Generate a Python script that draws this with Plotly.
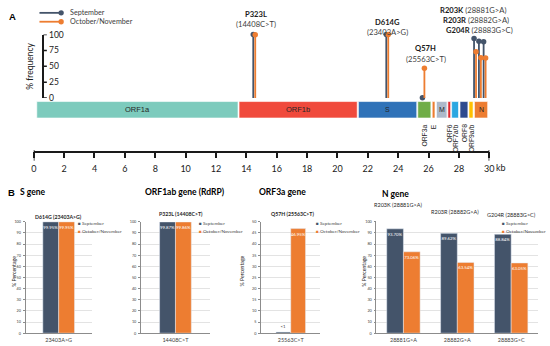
import plotly.graph_objects as go

W, H = 550, 346


def PX(x):
    return x / W


def PY(y):
    return 1 - y / H


NAVY = "#44546a"
ORANGE = "#ed7d31"
FONT = "Lato"

# ---------------- Panel A data ----------------
genes = ["ORF1a", "ORF1b", "S", "ORF3a", "E", "M", "ORF6", "ORF7a/b", "ORF8", "ORF9a/b", "N"]
gene_start_kb = [0.2, 13.52, 21.38, 25.29, 26.24, 26.52, 27.27, 27.52, 28.07, 28.66, 29.02]
gene_end_kb = [13.45, 21.30, 25.22, 26.15, 26.42, 27.21, 27.45, 27.97, 28.59, 28.93, 29.89]
gene_colors = ["#7dcbbd", "#f04a3c", "#2f72b8", "#70ad47", "#ed7d31", "#adb9ca",
               "#e0282e", "#2aa7e1", "#2e4a8e", "#ffc000", "#ed7d31"]
inside_label_genes = ["ORF1a", "ORF1b", "S", "M", "N"]

genome_ticks_kb = list(range(0, 31, 2))
genome_tick_labels = [str(t) for t in genome_ticks_kb]
freq_ticks = [0, 25, 50, 75, 100]

mutations = ["P323L", "D614G", "Q57H", "R203K", "R203R", "G204R"]
nt_changes = ["14408C>T", "23403A>G", "25563C>T", "28881G>A", "28882G>A", "28883G>C"]
mut_pos_kb = [14.52, 23.28, 25.66, 29.06, 29.38, 29.69]
sep_freq = [99.87, 99.95, 0.5, 93.70, 89.62, 88.84]
octnov_freq = [99.86, 99.95, 46.95, 73.06, 63.54, 63.05]

# ---------------- Panel B data ----------------
s_cats = ["23403A>G"]
s_sep = [99.95]
s_oct = [99.95]
s_sep_text = ["99.95%"]
s_oct_text = ["99.95%"]

rdrp_cats = ["14408C>T"]
rdrp_sep = [99.87]
rdrp_oct = [99.86]
rdrp_sep_text = ["99.87%"]
rdrp_oct_text = ["99.86%"]

orf3a_cats = ["25563C>T"]
orf3a_sep = [0.5]
orf3a_oct = [46.95]
orf3a_sep_text = ["<1"]
orf3a_oct_text = ["46.95%"]

n_cats = ["28881G>A", "28882G>A", "28883G>C"]
n_sep = [93.70, 89.62, 88.84]
n_oct = [73.06, 63.54, 63.05]
n_sep_text = ["93.70%", "89.62%", "88.84%"]
n_oct_text = ["73.06%", "63.54%", "63.05%"]

fig = go.Figure()
shapes = []
annotations = []

# genome axis pixel frame (layout)
GX0, GX1 = 31.2, 493.5
AXIS_Y = 150.7
FREQ_X = 41.0

# ---------------- Panel A: lollipops ----------------
OFF = 0.065
for vals, col, sgn in [(sep_freq, NAVY, -1), (octnov_freq, ORANGE, 1)]:
    xs, ys = [], []
    for p, v in zip(mut_pos_kb, vals):
        xs += [p + sgn * OFF, p + sgn * OFF, None]
        ys += [0, v, None]
    fig.add_trace(go.Scatter(x=xs, y=ys, mode="lines", line=dict(color=col, width=1.8),
                             xaxis="x", yaxis="y", showlegend=False, hoverinfo="skip",
                             cliponaxis=False))
    fig.add_trace(go.Scatter(x=[p + sgn * OFF for p in mut_pos_kb], y=vals, mode="markers",
                             marker=dict(color=col, size=5.5), xaxis="x", yaxis="y",
                             showlegend=False, cliponaxis=False))

# genome bar
BAR_TOP, BAR_BOT = 100.0, 116.7
for g, s, e, c in zip(genes, gene_start_kb, gene_end_kb, gene_colors):
    shapes.append(dict(type="rect", xref="x", yref="paper", x0=s, x1=e,
                       y0=PY(BAR_BOT), y1=PY(BAR_TOP), fillcolor=c,
                       line=dict(color="white", width=0.6), layer="above"))
    mid = (s + e) / 2
    if g in inside_label_genes:
        annotations.append(dict(text=g, xref="x", yref="paper", x=mid,
                                y=PY((BAR_TOP + BAR_BOT) / 2),
                                showarrow=False, xanchor="center", yanchor="middle",
                                font=dict(family="Liberation Sans",
                                          size=7.5 if len(g) > 1 else 7, color="#262626")))
    else:
        annotations.append(dict(text=g, xref="x", yref="paper", x=mid, y=PY(121.0),
                                showarrow=False, xanchor="center", yanchor="top", textangle=-90,
                                font=dict(family="Liberation Sans", size=6.8, color="#262626")))

# end caps of the genome axis
for t in (genome_ticks_kb[0], genome_ticks_kb[-1]):
    shapes.append(dict(type="line", xref="x", yref="paper", x0=t, x1=t,
                       y0=PY(160), y1=PY(AXIS_Y - 1.6), line=dict(color="#1a1a1a", width=1.5)))

# ticks/labels for the frequency axis (labels to the right of the axis line)
for t in freq_ticks:
    shapes.append(dict(type="line", xref="paper", yref="y", x0=PX(FREQ_X), x1=PX(FREQ_X + 3.5),
                       y0=t, y1=t, line=dict(color="#1a1a1a", width=1.5)))
    annotations.append(dict(text=str(t), xref="paper", yref="y", x=PX(FREQ_X + 3.2), y=t,
                            showarrow=False, xanchor="left", yanchor="middle",
                            font=dict(family=FONT, size=8.5, color="#1a1a1a")))

# mutation labels
single = [(0, 257, 11, 21), (1, 390, 19, 29), (2, 429, 46, 57)]
for i, xc, y1, y2 in single:
    annotations.append(dict(text="<b>%s</b>" % mutations[i], xref="paper", yref="paper",
                            x=PX(xc), y=PY(y1), showarrow=False, xanchor="center",
                            yanchor="middle", font=dict(family=FONT, size=7.6, color="#1a1a1a")))
    annotations.append(dict(text="(%s)" % nt_changes[i].replace(">", "&gt;"), xref="paper",
                            yref="paper", x=PX(xc), y=PY(y2), showarrow=False,
                            xanchor="center", yanchor="middle",
                            font=dict(family=FONT, size=7.6, color="#404040")))
multi = [(3, 441, 7), (4, 444, 17), (5, 448, 27)]
for i, xl, yc in multi:
    annotations.append(dict(text="<b>%s</b> <span style='color:#404040'>(%s)</span>" % (
        mutations[i], nt_changes[i].replace(">", "&gt;")), xref="paper", yref="paper",
        x=PX(xl), y=PY(yc), showarrow=False, xanchor="left", yanchor="middle",
        font=dict(family=FONT, size=7.6, color="#1a1a1a")))

# panel A legend
for yy, col, lab in [(10, NAVY, "September"), (19, ORANGE, "October/November")]:
    shapes.append(dict(type="line", xref="paper", yref="paper", x0=PX(37), x1=PX(59),
                       y0=PY(yy), y1=PY(yy), line=dict(color=col, width=1.8)))
    r = 2.7
    shapes.append(dict(type="circle", xref="paper", yref="paper", x0=PX(59 - r), x1=PX(59 + r),
                       y0=PY(yy + r), y1=PY(yy - r), fillcolor=col, line=dict(color=col, width=0)))
    annotations.append(dict(text=lab, xref="paper", yref="paper", x=PX(66), y=PY(yy),
                            showarrow=False, xanchor="left", yanchor="middle",
                            font=dict(family=FONT, size=7.2, color="#404040")))

annotations.append(dict(text="<b>A</b>", xref="paper", yref="paper", x=PX(4), y=PY(14),
                        showarrow=False, xanchor="left", yanchor="middle",
                        font=dict(family="Liberation Sans", size=9.5, color="black")))
annotations.append(dict(text="% frequency", xref="paper", yref="paper", x=PX(27), y=PY(64),
                        showarrow=False, textangle=-90, xanchor="center", yanchor="middle",
                        font=dict(family=FONT, size=8.5, color="#1a1a1a")))
annotations.append(dict(text="kb", xref="paper", yref="paper", x=PX(GX1 + 5.0), y=PY(167.3),
                        showarrow=False, xanchor="left", yanchor="middle",
                        font=dict(family=FONT, size=9, color="#1a1a1a")))

# ---------------- Panel B: bar charts ----------------
charts = [
    dict(cats=s_cats, sep=s_sep, octv=s_oct, st=s_sep_text, ot=s_oct_text, x0=23, x1=90,
         ymax=100, dtick=10, bw=0.24, sub=[("<b>D614G (23403A&gt;G)</b>", 56, 217)],
         leg_x=74, ytitle_x=11, sep_pos="inside", subsize=5.2),
    dict(cats=rdrp_cats, sep=rdrp_sep, octv=rdrp_oct, st=rdrp_sep_text, ot=rdrp_oct_text,
         x0=140, x1=210, ymax=100, dtick=10, bw=0.23,
         sub=[("<b>P323L (14408C&gt;T)</b>", 181, 214)],
         leg_x=197, ytitle_x=None, sep_pos="inside", subsize=5.2),
    dict(cats=orf3a_cats, sep=orf3a_sep, octv=orf3a_oct, st=orf3a_sep_text, ot=orf3a_oct_text,
         x0=262, x1=322, ymax=50, dtick=5, bw=0.25,
         sub=[("<b>Q57H (25563C&gt;T)</b>", 294, 214)],
         leg_x=316, ytitle_x=243, sep_pos="outside", subsize=5.2),
    dict(cats=n_cats, sep=n_sep, octv=n_oct, st=n_sep_text, ot=n_oct_text, x0=379, x1=543,
         ymax=100, dtick=10, bw=0.31,
         sub=[("R203K (28881G&gt;A)", 401, 205), ("R203R (28882G&gt;A)", 459, 212),
              ("G204R (28883G&gt;C)", 516, 215)],
         leg_x=504, ytitle_x=366, sep_pos="inside", subsize=5.5),
]

layout_axes = {}
for k, ch in enumerate(charts):
    n = k + 2
    xa, ya = "x%d" % n, "y%d" % n
    bw = ch["bw"]
    fig.add_trace(go.Bar(x=ch["cats"], y=ch["sep"], xaxis=xa, yaxis=ya, marker_color=NAVY,
                         width=bw, offset=-bw, text=ch["st"], textposition=ch["sep_pos"],
                         insidetextanchor="end", textangle=0, constraintext="none",
                         textfont=dict(family=FONT, size=4.3,
                                       color="white" if ch["sep_pos"] == "inside" else "#404040"),
                         cliponaxis=False, showlegend=False))
    fig.add_trace(go.Bar(x=ch["cats"], y=ch["octv"], xaxis=xa, yaxis=ya, marker_color=ORANGE,
                         width=bw, offset=0, text=ch["ot"], textposition="inside",
                         insidetextanchor="end", textangle=0, constraintext="none",
                         textfont=dict(family=FONT, size=4.3, color="white"),
                         cliponaxis=False, showlegend=False))
    layout_axes["xaxis%d" % n] = dict(domain=[PX(ch["x0"]), PX(ch["x1"])], anchor=ya,
                                      type="category", range=[-0.5, len(ch["cats"]) - 0.5],
                                      showline=True, linecolor="#8c8c8c", linewidth=0.8,
                                      ticks="", showgrid=False, zeroline=False,
                                      tickfont=dict(family=FONT, size=5.5, color="#404040"),
                                      ticklabelstandoff=1, fixedrange=True)
    layout_axes["yaxis%d" % n] = dict(domain=[PY(335), PY(222)], anchor=xa,
                                      range=[0, ch["ymax"]], dtick=ch["dtick"], tick0=0,
                                      showline=True, linecolor="#8c8c8c", linewidth=0.8,
                                      ticks="outside", ticklen=2, tickwidth=0.6,
                                      tickcolor="#8c8c8c", showgrid=True,
                                      gridcolor="#e3e3e3", gridwidth=0.6, zeroline=False,
                                      tickfont=dict(family=FONT, size=3.8, color="#404040"),
                                      ticklabelstandoff=1, fixedrange=True)
    for txt, xc, yc in ch["sub"]:
        annotations.append(dict(text=txt, xref="paper", yref="paper", x=PX(xc), y=PY(yc),
                                showarrow=False, xanchor="center", yanchor="middle",
                                font=dict(family=FONT, size=ch["subsize"], color="#262626")))
    for yy, col, lab in [(223, NAVY, "September"), (231, ORANGE, "October/November")]:
        annotations.append(dict(text="<span style='color:%s'>■</span> %s" % (col, lab),
                                xref="paper", yref="paper", x=PX(ch["leg_x"]), y=PY(yy),
                                showarrow=False, xanchor="left", yanchor="middle",
                                font=dict(family=FONT, size=4.6, color="#404040")))
    if ch["ytitle_x"] is not None:
        annotations.append(dict(text="% Percentage", xref="paper", yref="paper",
                                x=PX(ch["ytitle_x"]), y=PY(272), showarrow=False,
                                textangle=-90, xanchor="center", yanchor="middle",
                                font=dict(family=FONT, size=5.2, color="#262626")))

headers = [("<b>B</b>", 3, 192, 9.5, "Liberation Sans"), ("<b>S gene</b>", 15, 192, 8.5, FONT),
           ("<b>ORF1ab gene (RdRP)</b>", 142, 192, 8.5, FONT),
           ("<b>ORF3a gene</b>", 258, 192, 8.5, FONT), ("<b>N gene</b>", 383, 194, 8.5, FONT)]
for txt, xl, yc, sz, fam in headers:
    annotations.append(dict(text=txt, xref="paper", yref="paper", x=PX(xl), y=PY(yc),
                            showarrow=False, xanchor="left", yanchor="middle",
                            font=dict(family=fam, size=sz, color="black")))

fig.update_layout(
    width=W, height=H, margin=dict(l=0, r=0, t=0, b=0),
    paper_bgcolor="white", plot_bgcolor="rgba(0,0,0,0)",
    barmode="overlay", showlegend=False,
    font=dict(family=FONT),
    xaxis=dict(domain=[PX(GX0), PX(GX1)], range=[0, 30], anchor="free", position=PY(AXIS_Y),
               tickvals=genome_ticks_kb, ticktext=genome_tick_labels, ticks="outside",
               ticklen=6, tickwidth=1.5, tickcolor="#1a1a1a", showline=True,
               linecolor="#1a1a1a", linewidth=1.5, showgrid=False, zeroline=False,
               tickfont=dict(family=FONT, size=9, color="#1a1a1a"), ticklabelstandoff=3,
               fixedrange=True),
    yaxis=dict(domain=[PY(96.5), PY(32)], range=[0, 100], anchor="free", position=PX(FREQ_X),
               showticklabels=False, ticks="", showline=True, linecolor="#1a1a1a",
               linewidth=1.5, showgrid=False, zeroline=False, fixedrange=True),
    shapes=shapes, annotations=annotations,
    **layout_axes,
)

fig.write_html("out.html", config={"displayModeBar": False},
               post_script="document.body.style.margin='0';document.body.style.overflow='hidden';")
